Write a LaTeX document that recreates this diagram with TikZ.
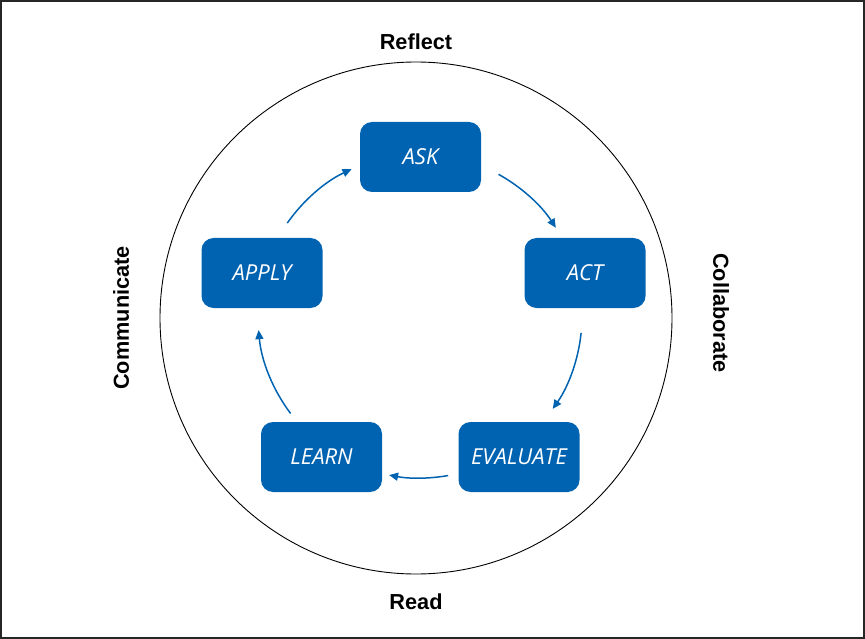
\documentclass[tikz,border=0pt]{standalone}
\usepackage{fontspec}
\setmainfont{Liberation Sans}
\newfontfamily\boxfont{Open Sans}
\usetikzlibrary{arrows.meta}
\definecolor{cycleblue}{HTML}{0063B1}
\tikzset{
  stage/.style={fill=cycleblue, draw=none, rounded corners=12pt,
    minimum width=121pt, minimum height=70pt, inner sep=0pt,
    text=white, font=\boxfont\itshape\fontsize{22}{26}\selectfont},
  side/.style={font=\bfseries\fontsize{21.7}{26}\selectfont, inner sep=0pt},
  flow/.style={draw=cycleblue, line width=1.5pt,
    -{Triangle[length=9pt,width=8pt]}}
}
\begin{document}
\begin{tikzpicture}[x=1pt,y=-1pt]
  \useasboundingbox (0,0) rectangle (865,639);
  % outer frame
  \draw[line width=1.6pt, draw=black!85] (1,1) rectangle (864,638);
  % enclosing circle
  \draw[line width=0.9pt] (416,318) circle[radius=256pt];

  % the five stages
  \node[stage] (ask)  at (420.5,157) {ASK};
  \node[stage] (act)  at (585,273)   {ACT};
  \node[stage] (eval) at (519,457)   {EVALUATE};
  \node[stage] (learn) at (321.5,457) {LEARN};
  \node[stage] (apply) at (262,273)  {APPLY};

  % side labels
  \node[side] (reflect) at (416,42)  {Reflect};
  \node[side] (read)    at (416,602) {Read};
  \node[side, rotate=90]  (comm)  at (121,318) {Communicate};
  \node[side, rotate=-90] (collab) at (721,313) {Collaborate};

  % arrows along an inner circle around the hub
  \coordinate (hub) at (420,316);
  \begin{scope}[shift={(hub)}, y=1pt]
    \coordinate (s1) at (61:162);
    \coordinate (s2) at (-6:162);
    \coordinate (s3) at (-80:162);
    \coordinate (s4) at (-143:162);
    \coordinate (s5) at (145:162);
    \draw[flow] (s1) arc[start angle=61, end angle=33, radius=162];
    \draw[flow] (s2) arc[start angle=-6, end angle=-35, radius=162];
    \draw[flow] (s3) arc[start angle=-80, end angle=-101, radius=162];
    \draw[flow] (s4) arc[start angle=-143, end angle=-175, radius=162];
    \draw[flow] (s5) arc[start angle=145, end angle=115, radius=162];
  \end{scope}
\end{tikzpicture}
\end{document}
